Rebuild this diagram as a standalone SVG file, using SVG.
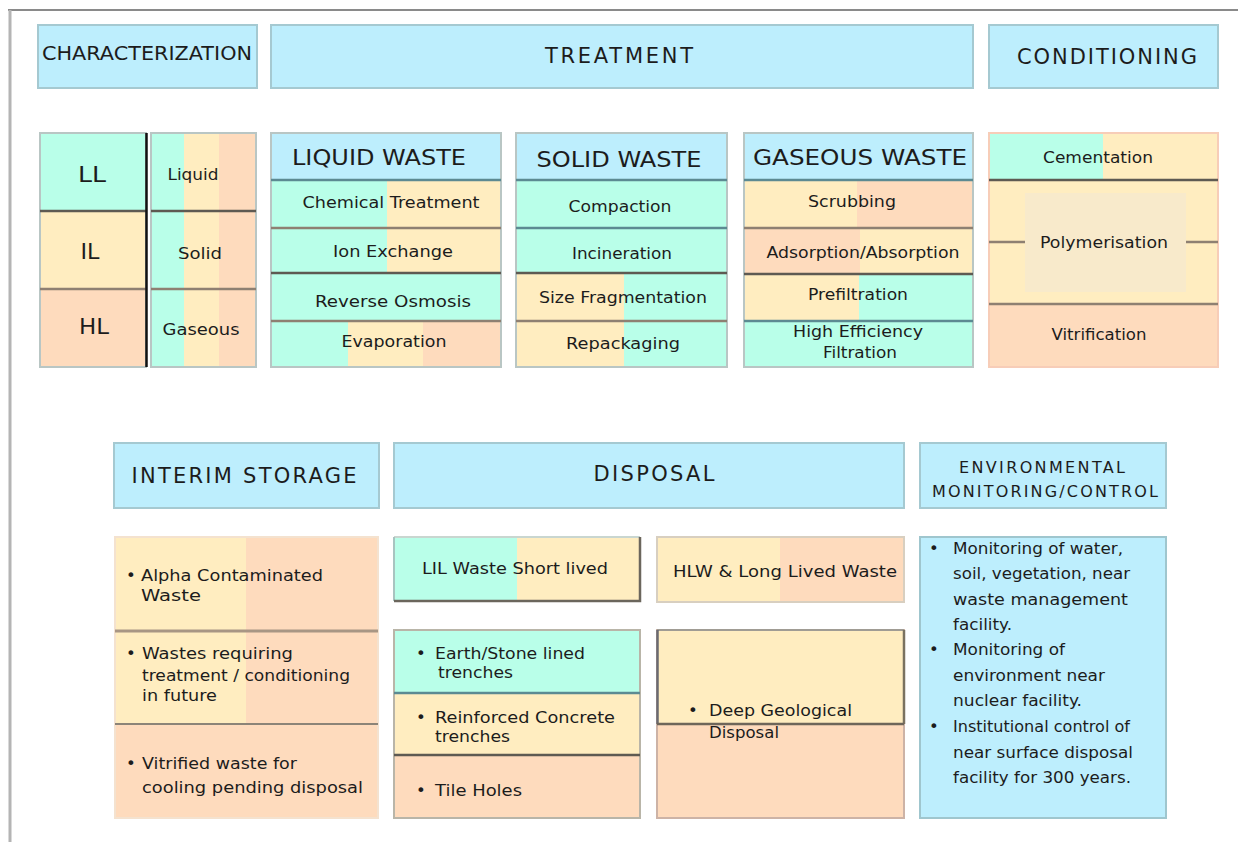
<svg xmlns="http://www.w3.org/2000/svg" width="1238" height="842" viewBox="0 0 1238 842">
<style>
.bg{fill:#ffffff}
.hdr{fill:#BDEEFD;stroke:#A5C9D1;stroke-width:2}
.blue{fill:#BDEEFD}
.mint{fill:#B9FFE9}
.yel{fill:#FFEDC0}
.pch{fill:#FEDBBD}
.poly{fill:#F8EACB}
.box{fill:none;stroke:#B9C6C4;stroke-width:2}
.bbox{fill:none;stroke:#9FC6CE;stroke-width:2}
.dv{stroke:#5E5A52;stroke-width:2.5}
.dvb{stroke:#5C8A92;stroke-width:2.5}
.dvl{stroke:#8E8072;stroke-width:2.5}
.dk{stroke:#6B665C;stroke-width:2.5;fill:none}
text{font-family:"DejaVu Sans",Verdana,sans-serif;fill:#1c1c1c}
.h{font-size:21px}
.h2{font-size:22px}
.s{font-size:16.5px}
.m{text-anchor:middle}
</style>
<rect class="bg" x="0" y="0" width="1238" height="842"/>
<g id="frame">
<line x1="8" y1="10" x2="1238" y2="10" stroke="#8A8A8A" stroke-width="2"/>
<line x1="10" y1="10" x2="10" y2="842" stroke="#B4B4B4" stroke-width="3"/>
</g>

<g id="characterization-header">
<rect class="hdr" x="38" y="25" width="219" height="63"/>
<text class="m" x="147" y="60" font-size="19" textLength="210" lengthAdjust="spacingAndGlyphs">CHARACTERIZATION</text>
</g>
<g id="treatment-header">
<rect class="hdr" x="271" y="25" width="702" height="63"/>
<text class="h m" x="619" y="63" textLength="148" lengthAdjust="spacing">TREATMENT</text>
</g>
<g id="conditioning-header">
<rect class="hdr" x="989" y="25" width="229" height="63"/>
<text class="h m" x="1107" y="64" textLength="180" lengthAdjust="spacing">CONDITIONING</text>
</g>

<g id="levels">
<rect class="mint" x="40" y="133" width="106" height="78"/>
<rect class="yel" x="40" y="211" width="106" height="78"/>
<rect class="pch" x="40" y="289" width="106" height="78"/>
<rect class="box" x="40" y="133" width="106" height="234"/>
<line class="dv" x1="40" y1="211" x2="146" y2="211"/>
<line class="dvl" x1="40" y1="289" x2="146" y2="289"/>
<line x1="146.5" y1="133" x2="146.5" y2="367" stroke="#111" stroke-width="2.5"/>
<text class="m" x="92" y="182" font-size="21" textLength="28" lengthAdjust="spacingAndGlyphs">LL</text>
<text class="m" x="90" y="259" font-size="21" textLength="19" lengthAdjust="spacingAndGlyphs">IL</text>
<text class="m" x="94" y="334" font-size="21" textLength="30" lengthAdjust="spacingAndGlyphs">HL</text>
</g>
<g id="phases">
<rect class="mint" x="151" y="133" width="33" height="234"/>
<rect class="yel" x="184" y="133" width="35" height="234"/>
<rect class="pch" x="219" y="133" width="37" height="234"/>
<rect class="box" x="151" y="133" width="105" height="234"/>
<line class="dv" x1="151" y1="211" x2="256" y2="211"/>
<line class="dvl" x1="151" y1="289" x2="256" y2="289"/>
<text class="m" x="193" y="180" font-size="16" textLength="51" lengthAdjust="spacingAndGlyphs">Liquid</text>
<text class="m" x="200" y="259" font-size="16" textLength="44" lengthAdjust="spacingAndGlyphs">Solid</text>
<text class="m" x="201" y="335" font-size="16" textLength="77" lengthAdjust="spacingAndGlyphs">Gaseous</text>
</g>

<g id="liquid-waste">
<rect class="blue" x="271" y="133" width="230" height="47"/>
<rect class="mint" x="271" y="180" width="116" height="48"/>
<rect class="yel" x="387" y="180" width="114" height="48"/>
<rect class="mint" x="271" y="228" width="116" height="45"/>
<rect class="yel" x="387" y="228" width="114" height="45"/>
<rect class="mint" x="271" y="273" width="230" height="48"/>
<rect class="mint" x="271" y="321" width="77" height="46"/>
<rect class="yel" x="348" y="321" width="75" height="46"/>
<rect class="pch" x="423" y="321" width="78" height="46"/>
<rect class="box" x="271" y="133" width="230" height="234"/>
<line class="dvb" x1="271" y1="180" x2="501" y2="180"/>
<line class="dvl" x1="271" y1="228" x2="501" y2="228"/>
<line class="dv" x1="271" y1="273" x2="501" y2="273"/>
<line class="dvl" x1="271" y1="321" x2="501" y2="321"/>
<text class="h2 m" x="379" y="165" textLength="174" lengthAdjust="spacingAndGlyphs">LIQUID WASTE</text>
<text class="s m" x="391" y="208" textLength="177" lengthAdjust="spacingAndGlyphs">Chemical Treatment</text>
<text class="s m" x="393" y="257" textLength="120" lengthAdjust="spacingAndGlyphs">Ion Exchange</text>
<text class="s m" x="393" y="307" textLength="156" lengthAdjust="spacingAndGlyphs">Reverse Osmosis</text>
<text class="s m" x="394" y="347" textLength="105" lengthAdjust="spacingAndGlyphs">Evaporation</text>
</g>

<g id="solid-waste">
<rect class="blue" x="516" y="133" width="211" height="47"/>
<rect class="mint" x="516" y="180" width="211" height="93"/>
<rect class="yel" x="516" y="273" width="108" height="94"/>
<rect class="mint" x="624" y="273" width="103" height="94"/>
<rect class="box" x="516" y="133" width="211" height="234"/>
<line class="dvb" x1="516" y1="180" x2="727" y2="180"/>
<line class="dvb" x1="516" y1="228" x2="727" y2="228"/>
<line class="dv" x1="516" y1="273" x2="727" y2="273"/>
<line class="dvl" x1="516" y1="321" x2="727" y2="321"/>
<text class="h2 m" x="619" y="167" textLength="165" lengthAdjust="spacingAndGlyphs">SOLID WASTE</text>
<text class="s m" x="620" y="212" textLength="103" lengthAdjust="spacingAndGlyphs">Compaction</text>
<text class="s m" x="622" y="259" textLength="100" lengthAdjust="spacingAndGlyphs">Incineration</text>
<text class="s m" x="623" y="303" textLength="168" lengthAdjust="spacingAndGlyphs">Size Fragmentation</text>
<text class="s m" x="623" y="349" textLength="114" lengthAdjust="spacingAndGlyphs">Repackaging</text>
</g>

<g id="gaseous-waste">
<rect class="blue" x="744" y="133" width="229" height="47"/>
<rect class="yel" x="744" y="180" width="113" height="48"/>
<rect class="pch" x="857" y="180" width="116" height="48"/>
<rect class="pch" x="744" y="228" width="116" height="46"/>
<rect class="yel" x="860" y="228" width="113" height="46"/>
<rect class="yel" x="744" y="274" width="115" height="47"/>
<rect class="mint" x="859" y="274" width="114" height="47"/>
<rect class="mint" x="744" y="321" width="229" height="46"/>
<rect class="box" x="744" y="133" width="229" height="234"/>
<line class="dvb" x1="744" y1="180" x2="973" y2="180"/>
<line class="dvl" x1="744" y1="228" x2="973" y2="228"/>
<line class="dv" x1="744" y1="274" x2="973" y2="274"/>
<line class="dvb" x1="744" y1="321" x2="973" y2="321"/>
<text class="h2 m" x="860" y="165" textLength="214" lengthAdjust="spacingAndGlyphs">GASEOUS WASTE</text>
<text class="s m" x="852" y="207" textLength="88" lengthAdjust="spacingAndGlyphs">Scrubbing</text>
<text class="s m" x="863" y="258" textLength="193" lengthAdjust="spacingAndGlyphs">Adsorption/Absorption</text>
<text class="s m" x="858" y="300" textLength="100" lengthAdjust="spacingAndGlyphs">Prefiltration</text>
<text class="s m" x="858" y="337" textLength="130" lengthAdjust="spacingAndGlyphs">High Efficiency</text>
<text class="s m" x="860" y="358" textLength="74" lengthAdjust="spacingAndGlyphs">Filtration</text>
</g>

<g id="conditioning">
<rect class="mint" x="989" y="133" width="114" height="47"/>
<rect class="yel" x="1103" y="133" width="115" height="47"/>
<rect class="yel" x="989" y="180" width="229" height="124"/>
<rect class="poly" x="1025" y="193" width="161" height="99"/>
<rect class="pch" x="989" y="304" width="229" height="63"/>
<rect x="989" y="133" width="229" height="234" fill="none" stroke="#F7CDB8" stroke-width="2"/>
<line class="dv" x1="989" y1="180" x2="1218" y2="180" stroke="#7D7A68"/>
<line class="dvl" x1="989" y1="242" x2="1025" y2="242"/>
<line class="dvl" x1="1186" y1="242" x2="1218" y2="242"/>
<line class="dvl" x1="989" y1="304" x2="1218" y2="304"/>
<text class="s m" x="1098" y="163" textLength="110" lengthAdjust="spacingAndGlyphs">Cementation</text>
<text class="s m" x="1104" y="248" textLength="128" lengthAdjust="spacingAndGlyphs">Polymerisation</text>
<text class="s m" x="1099" y="340" textLength="95" lengthAdjust="spacingAndGlyphs">Vitrification</text>
</g>

<g id="interim-storage-header">
<rect class="hdr" x="114" y="443" width="265" height="65"/>
<text class="h m" x="244" y="483" textLength="225" lengthAdjust="spacing">INTERIM STORAGE</text>
</g>
<g id="disposal-header">
<rect class="hdr" x="394" y="443" width="510" height="65"/>
<text class="h m" x="654" y="481" textLength="121" lengthAdjust="spacing">DISPOSAL</text>
</g>
<g id="environmental-header">
<rect class="hdr" x="920" y="443" width="246" height="65"/>
<text class="m" x="1042" y="473" font-size="16" textLength="166" lengthAdjust="spacing">ENVIRONMENTAL</text>
<text class="m" x="1045" y="497" font-size="16" textLength="226" lengthAdjust="spacing">MONITORING/CONTROL</text>
</g>

<g id="interim-storage">
<rect class="yel" x="115" y="537" width="131" height="187"/>
<rect class="pch" x="246" y="537" width="132" height="187"/>
<rect class="pch" x="115" y="724" width="263" height="94"/>
<rect x="115" y="537" width="263" height="281" fill="none" stroke="#F4E2CF" stroke-width="2"/>
<line x1="115" y1="631" x2="378" y2="631" stroke="#A89684" stroke-width="3"/>
<line x1="115" y1="724" x2="378" y2="724" stroke="#8C8478" stroke-width="2"/>
<text class="s" x="126" y="581">•</text>
<text class="s" x="141" y="581" textLength="182" lengthAdjust="spacingAndGlyphs">Alpha Contaminated</text>
<text class="s" x="141" y="601" textLength="60" lengthAdjust="spacingAndGlyphs">Waste</text>
<text class="s" x="126" y="659">•</text>
<text class="s" x="142" y="659" textLength="151" lengthAdjust="spacingAndGlyphs">Wastes requiring</text>
<text class="s" x="142" y="681" textLength="208" lengthAdjust="spacingAndGlyphs">treatment / conditioning</text>
<text class="s" x="142" y="701" textLength="75" lengthAdjust="spacingAndGlyphs">in future</text>
<text class="s" x="126" y="769">•</text>
<text class="s" x="142" y="769" textLength="155" lengthAdjust="spacingAndGlyphs">Vitrified waste for</text>
<text class="s" x="142" y="793" textLength="221" lengthAdjust="spacingAndGlyphs">cooling pending disposal</text>
</g>

<g id="lil-waste">
<rect class="mint" x="394" y="537" width="123" height="64"/>
<rect class="yel" x="517" y="537" width="123" height="64"/>
<path d="M394 537 H640" stroke="#C9D6D0" stroke-width="2"/>
<path d="M394 537 V601" stroke="#A8C4C0" stroke-width="2"/>
<path d="M640 537 V601 H394" class="dk"/>
<text class="s m" x="515" y="574" textLength="186" lengthAdjust="spacingAndGlyphs">LIL Waste Short lived</text>
</g>
<g id="near-surface-disposal">
<rect class="mint" x="394" y="630" width="246" height="63"/>
<rect class="yel" x="394" y="693" width="246" height="62"/>
<rect class="pch" x="394" y="755" width="246" height="63"/>
<rect x="394" y="630" width="246" height="188" fill="none" stroke="#B9B5A8" stroke-width="2"/>
<line class="dvb" x1="394" y1="693" x2="640" y2="693" stroke="#6E8880"/>
<line class="dv" x1="394" y1="755" x2="640" y2="755" stroke="#857A68"/>
<text class="s" x="416" y="659">•</text>
<text class="s" x="435" y="659" textLength="150" lengthAdjust="spacingAndGlyphs">Earth/Stone lined</text>
<text class="s" x="438" y="678" textLength="75" lengthAdjust="spacingAndGlyphs">trenches</text>
<text class="s" x="416" y="723">•</text>
<text class="s" x="435" y="723" textLength="180" lengthAdjust="spacingAndGlyphs">Reinforced Concrete</text>
<text class="s" x="435" y="742" textLength="75" lengthAdjust="spacingAndGlyphs">trenches</text>
<text class="s" x="416" y="796">•</text>
<text class="s" x="435" y="796" textLength="87" lengthAdjust="spacingAndGlyphs">Tile Holes</text>
</g>
<g id="hlw-waste">
<rect class="yel" x="657" y="537" width="123" height="65"/>
<rect class="pch" x="780" y="537" width="124" height="65"/>
<rect x="657" y="537" width="247" height="65" fill="none" stroke="#D8CFC0" stroke-width="2"/>
<text class="s m" x="785" y="577" textLength="224" lengthAdjust="spacingAndGlyphs">HLW &amp; Long Lived Waste</text>
</g>
<g id="deep-geological">
<rect class="yel" x="657" y="630" width="247" height="94"/>
<rect class="pch" x="657" y="724" width="247" height="94"/>
<rect x="657" y="630" width="247" height="188" fill="none" stroke="#CDB3A6" stroke-width="2"/>
<path d="M657 630 H904" stroke="#A09C94" stroke-width="2"/>
<path d="M657.5 630 V724" stroke="#6A6A70" stroke-width="2.5"/>
<path d="M904 630 V724" stroke="#7A7260" stroke-width="2.5"/>
<line x1="657" y1="724" x2="904" y2="724" stroke="#6E665A" stroke-width="2.5"/>
<text class="s" x="688" y="716">•</text>
<text class="s" x="709" y="716" textLength="143" lengthAdjust="spacingAndGlyphs">Deep Geological</text>
<text class="s" x="709" y="738" textLength="70" lengthAdjust="spacingAndGlyphs">Disposal</text>
</g>

<g id="environmental-monitoring">
<rect class="blue" x="920" y="537" width="246" height="281"/>
<rect class="bbox" x="920" y="537" width="246" height="281"/>
<text class="s" x="929" y="554">•</text>
<text class="s" x="953" y="554" textLength="170" lengthAdjust="spacingAndGlyphs">Monitoring of water,</text>
<text class="s" x="953" y="579" textLength="177" lengthAdjust="spacingAndGlyphs">soil, vegetation, near</text>
<text class="s" x="953" y="605" textLength="175" lengthAdjust="spacingAndGlyphs">waste management</text>
<text class="s" x="953" y="630" textLength="59" lengthAdjust="spacingAndGlyphs">facility.</text>
<text class="s" x="929" y="655">•</text>
<text class="s" x="953" y="655" textLength="112" lengthAdjust="spacingAndGlyphs">Monitoring of</text>
<text class="s" x="953" y="681" textLength="152" lengthAdjust="spacingAndGlyphs">environment near</text>
<text class="s" x="953" y="706" textLength="129" lengthAdjust="spacingAndGlyphs">nuclear facility.</text>
<text class="s" x="929" y="732">•</text>
<text class="s" x="953" y="732" textLength="177" lengthAdjust="spacingAndGlyphs">Institutional control of</text>
<text class="s" x="953" y="758" textLength="180" lengthAdjust="spacingAndGlyphs">near surface disposal</text>
<text class="s" x="953" y="783" textLength="178" lengthAdjust="spacingAndGlyphs">facility for 300 years.</text>
</g>
</svg>
